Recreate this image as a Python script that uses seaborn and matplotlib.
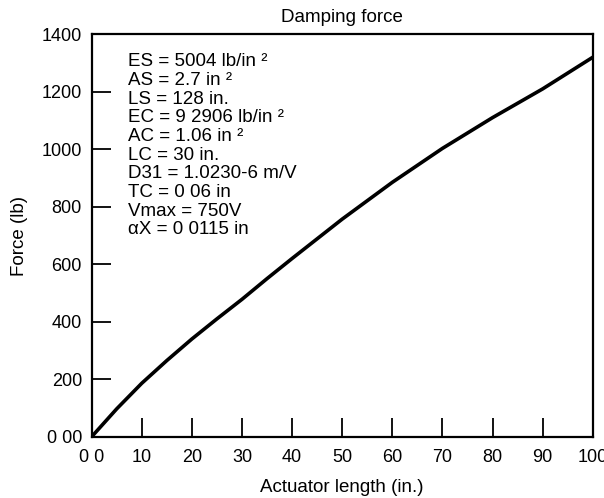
import matplotlib
matplotlib.use("Agg")
import matplotlib.pyplot as plt
import seaborn as sns
import pandas as pd

# Actuator length (in.) and damping force (lb)
length_in = [0, 5, 10, 15, 20, 25, 30, 35, 40, 50, 60, 70, 80, 90, 100]
force_lb = [0, 97, 186, 265, 340, 410, 478, 550, 620, 757, 885, 1003, 1110, 1210, 1320]

x_ticks = [0, 10, 20, 30, 40, 50, 60, 70, 80, 90, 100]
x_tick_labels = ["0 0", "10", "20", "30", "40", "50", "60", "70", "80", "90", "100"]
y_ticks = [0, 200, 400, 600, 800, 1000, 1200, 1400]
y_tick_labels = ["0 00", "200", "400", "600", "800", "1000", "1200", "1400"]

parameters = [
    "ES = 5004 lb/in ²",
    "AS = 2.7 in ²",
    "LS = 128 in.",
    "EC = 9 2906 lb/in ²",
    "AC = 1.06 in ²",
    "LC = 30 in.",
    "D31 = 1.0230-6 m/V",
    "TC = 0 06 in",
    "Vmax = 750V",
    "αX = 0 0115 in",
]

sns.set_theme(style="ticks")
plt.rcParams["font.family"] = ["Liberation Sans", "DejaVu Sans"]

df = pd.DataFrame({"length": length_in, "force": force_lb})

fig = plt.figure(figsize=(6.04, 4.98), dpi=100)
ax = fig.add_axes([0.1518, 0.1231, 0.8295, 0.8080])

sns.lineplot(data=df, x="length", y="force", ax=ax, color="black",
             linewidth=2.6, solid_capstyle="round", solid_joinstyle="round")

ax.set_xlim(0, 100)
ax.set_ylim(0, 1400)
ax.set_xticks(x_ticks)
ax.set_xticklabels(x_tick_labels)
ax.set_yticks(y_ticks)
ax.set_yticklabels(y_tick_labels)

ax.tick_params(axis="both", direction="in", length=13.5, width=1.3,
               labelsize=13, colors="black", pad=7)
ax.tick_params(axis="x", pad=9)

for side in ["left", "right", "top", "bottom"]:
    ax.spines[side].set_visible(True)
    ax.spines[side].set_linewidth(1.6)
    ax.spines[side].set_color("black")

ax.set_title("Damping force", fontsize=13.5, pad=9, color="black")
ax.set_xlabel("Actuator length (in.)", fontsize=13.5, labelpad=9, color="black")
ax.set_ylabel("Force (lb)", fontsize=13.5, labelpad=10, color="black")

ax.text(0.073, 0.953, "\n".join(parameters), transform=ax.transAxes,
        fontsize=13.5, va="top", ha="left", linespacing=1.13, color="black")

fig.savefig("out.png", dpi=100)
